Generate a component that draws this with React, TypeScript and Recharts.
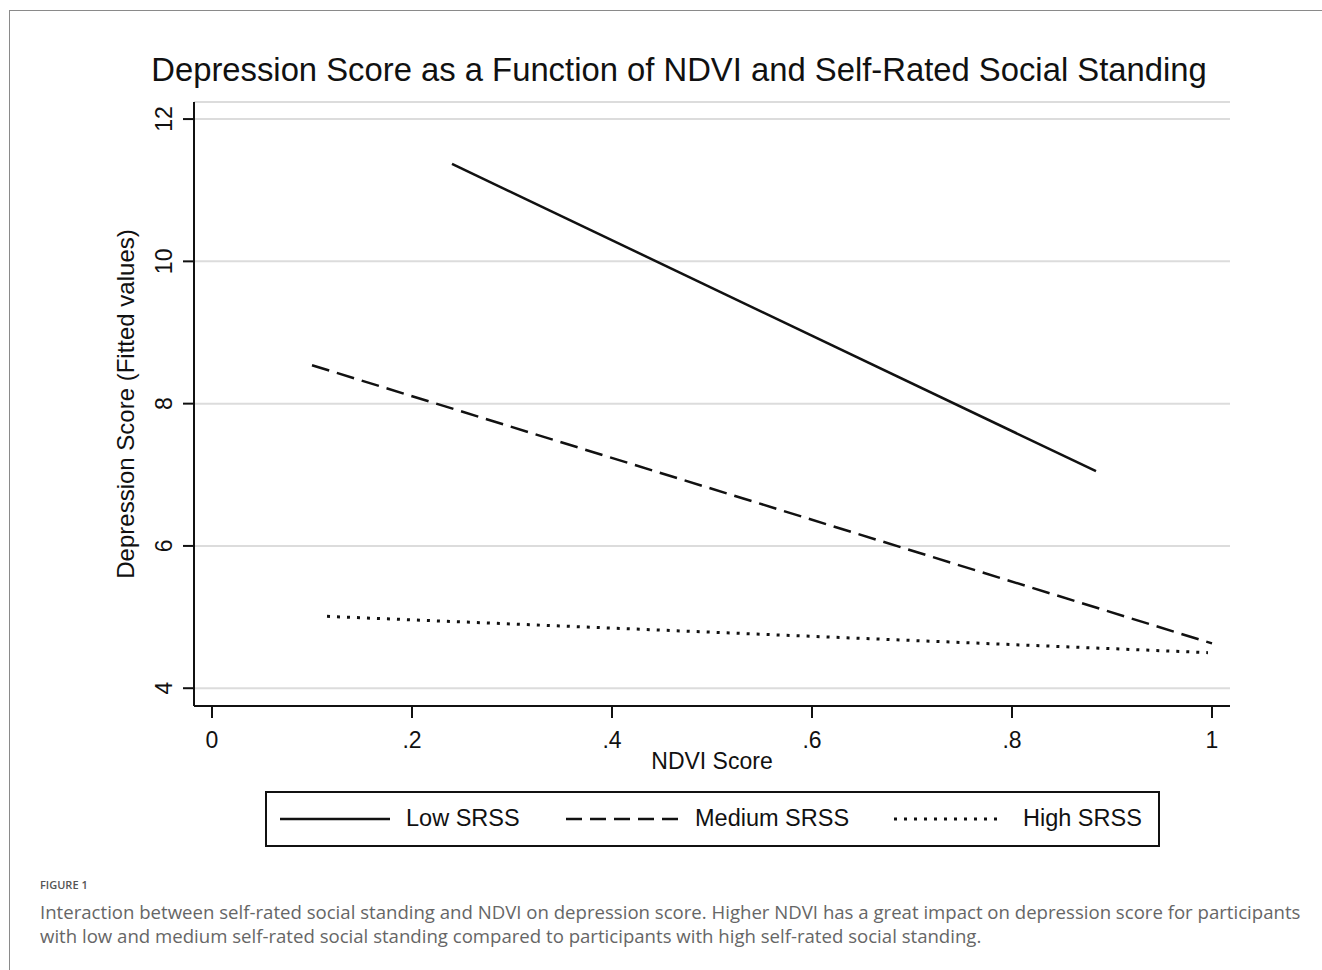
import React from 'react';
import { LineChart, Line, XAxis, YAxis, CartesianGrid, Label } from 'recharts';

// fitted lines (NDVI score -> depression score)
const lowX = [0.24, 0.884];
const lowY = [11.37, 7.05];
const medX = [0.1, 1.0];
const medY = [8.54, 4.63];
const highX = [0.115, 0.996];
const highY = [5.01, 4.5];

const xTicks = [0, 0.2, 0.4, 0.6, 0.8, 1];
const yTicks = [4, 6, 8, 10, 12];

const legendNames = ['Low SRSS', 'Medium SRSS', 'High SRSS'];

const toPoints = (xs: number[], ys: number[]) => xs.map((x, i) => ({ x, y: ys[i] }));

const lowData = toPoints(lowX, lowY);
const medData = toPoints(medX, medY);
const highData = toPoints(highX, highY);

const FONT = '"Liberation Sans", Arial, sans-serif';

const fmtX = (v: number) => (v === 0 ? '0' : v === 1 ? '1' : String(v).replace(/^0/, ''));

const YTick = (props: any) => {
  const { x, y, payload } = props;
  return (
    <text
      x={x}
      y={y}
      transform={`rotate(-90, ${x}, ${y})`}
      textAnchor="middle"
      fontFamily={FONT}
      fontSize={23}
      fill="#111"
    >
      {payload.value}
    </text>
  );
};

const dashes = ['none', '18 8', '3 7'];

const App: React.FC = () => {
  return (
    <div
      style={{
        position: 'absolute',
        left: 0,
        top: 0,
        width: 1322,
        height: 970,
        overflow: 'hidden',
        background: '#fff',
      }}
    >
      {/* figure frame */}
      <div
        style={{
          position: 'absolute',
          left: 9,
          top: 10,
          width: 1400,
          height: 1000,
          border: '1px solid #8a8a8a',
        }}
      />

      {/* title */}
      <div
        style={{
          position: 'absolute',
          left: 0,
          top: 50,
          width: 1358,
          textAlign: 'center',
          fontFamily: FONT,
          fontSize: 32.8,
          lineHeight: '40px',
          color: '#111',
          whiteSpace: 'nowrap',
        }}
      >
        Depression Score as a Function of NDVI and Self-Rated Social Standing
      </div>

      <div style={{ position: 'absolute', left: 0, top: 0 }}>
        <LineChart
          width={1322}
          height={800}
          margin={{ top: 102, right: 92, left: 114, bottom: 24 }}
        >
          <CartesianGrid vertical={false} stroke="#dcdcdc" strokeWidth={2} />
          <XAxis
            dataKey="x"
            type="number"
            domain={[-0.018, 1.018]}
            ticks={xTicks}
            allowDataOverflow
            height={70}
            tickFormatter={fmtX}
            tickSize={12}
            tickMargin={14}
            axisLine={{ stroke: '#111', strokeWidth: 2 }}
            tickLine={{ stroke: '#111', strokeWidth: 2 }}
            tick={{ fill: '#111', fontSize: 23, fontFamily: FONT }}
          >
            <Label
              value="NDVI Score"
              position="insideTop"
              offset={47}
              style={{ fontSize: 23, fontFamily: FONT, fill: '#111' }}
            />
          </XAxis>
          <YAxis
            dataKey="y"
            type="number"
            domain={[3.75, 12.24]}
            ticks={yTicks}
            allowDataOverflow
            width={80}
            tickSize={11}
            tickMargin={11}
            axisLine={{ stroke: '#111', strokeWidth: 2 }}
            tickLine={{ stroke: '#111', strokeWidth: 2 }}
            tick={<YTick />}
          >
            <Label
              value="Depression Score (Fitted values)"
              angle={-90}
              position="insideLeft"
              offset={11}
              style={{ fontSize: 24, fontFamily: FONT, fill: '#111', textAnchor: 'middle' }}
            />
          </YAxis>
          <Line
            data={lowData}
            dataKey="y"
            stroke="#111"
            strokeWidth={2.5}
            dot={false}
            activeDot={false}
            isAnimationActive={false}
          />
          <Line
            data={medData}
            dataKey="y"
            stroke="#111"
            strokeWidth={2.5}
            strokeDasharray={dashes[1]}
            dot={false}
            activeDot={false}
            isAnimationActive={false}
          />
          <Line
            data={highData}
            dataKey="y"
            stroke="#111"
            strokeWidth={3}
            strokeDasharray={dashes[2]}
            dot={false}
            activeDot={false}
            isAnimationActive={false}
          />
        </LineChart>
      </div>

      {/* legend box */}
      <div
        style={{
          position: 'absolute',
          left: 265,
          top: 791,
          width: 891,
          height: 52,
          border: '2px solid #111',
          fontFamily: FONT,
          fontSize: 23.5,
          color: '#111',
        }}
      >
        {legendNames.map((name, i) => {
          const sampleLeft = [13, 299, 627][i];
          const textLeft = [139, 428, 756][i];
          return (
            <React.Fragment key={name}>
              <svg
                width={114}
                height={10}
                style={{ position: 'absolute', left: sampleLeft, top: 21 }}
              >
                <line
                  x1={0}
                  y1={5}
                  x2={i === 1 ? 114 : 110}
                  y2={5}
                  stroke="#111"
                  strokeWidth={i === 2 ? 3 : 2.5}
                  strokeDasharray={i === 1 ? '16 8' : dashes[i]}
                />
              </svg>
              <span
                style={{
                  position: 'absolute',
                  left: textLeft,
                  top: 11,
                  lineHeight: '28px',
                  whiteSpace: 'nowrap',
                }}
              >
                {name}
              </span>
            </React.Fragment>
          );
        })}
      </div>

      {/* caption */}
      <div
        style={{
          position: 'absolute',
          left: 40,
          top: 877,
          fontFamily: '"Open Sans", "Noto Sans", sans-serif',
          fontSize: 11,
          fontWeight: 600,
          color: '#555',
          whiteSpace: 'nowrap',
        }}
      >
        FIGURE 1
      </div>
      <div
        style={{
          position: 'absolute',
          left: 40,
          top: 900,
          fontFamily: '"Open Sans", "Noto Sans", sans-serif',
          fontSize: 18.6,
          lineHeight: '24px',
          color: '#666',
          whiteSpace: 'nowrap',
        }}
      >
        <div>
          Interaction between self-rated social standing and NDVI on depression score. Higher NDVI has a great impact on depression score for participants
        </div>
        <div>
          with low and medium self-rated social standing compared to participants with high self-rated social standing.
        </div>
      </div>
    </div>
  );
};

export default App;
